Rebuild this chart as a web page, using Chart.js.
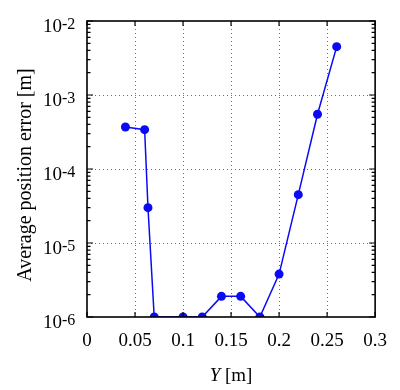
<!DOCTYPE html>
<html>
<head>
<meta charset="utf-8">
<script src="https://cdn.jsdelivr.net/npm/chart.js@4/dist/chart.umd.min.js"></script>
<style>
  body { margin: 0; background: #fff; }
  #wrap { width: 400px; height: 390px; }
</style>
</head>
<body>
<div id="wrap"><canvas id="errChart" width="400" height="390"></canvas></div>
<script>
// values
const yPos = [0.04, 0.06, 0.0635, 0.07, 0.10, 0.12, 0.14, 0.16, 0.18, 0.20, 0.22, 0.24, 0.26];
const avgError = [3.7e-4, 3.4e-4, 3.0e-5, 1e-6, 1e-6, 1e-6, 1.9e-6, 1.9e-6, 1e-6, 3.8e-6, 4.5e-5, 5.5e-4, 4.5e-3];
const xTicks = [0, 0.05, 0.1, 0.15, 0.2, 0.25, 0.3];
const yExponents = [-6, -5, -4, -3, -2];

const serif = "'Liberation Serif', 'Times New Roman', serif";
const gridGray = '#6e6e6e';

const framePlugin = {
    id: 'frame',
    afterDraw(chart) {
        const ctx = chart.ctx;
        const a = chart.chartArea;
        const xs = chart.scales.x, ys = chart.scales.y;
        ctx.save();
        ctx.strokeStyle = '#000';
        ctx.lineWidth = 1.6;
        ctx.strokeRect(a.left, a.top, a.right - a.left, a.bottom - a.top);

        // inward ticks
        ctx.lineWidth = 1.2;
        ctx.beginPath();
        xTicks.forEach(v => {
            const px = xs.getPixelForValue(v);
            ctx.moveTo(px, a.bottom); ctx.lineTo(px, a.bottom - 5);
            ctx.moveTo(px, a.top); ctx.lineTo(px, a.top + 5);
        });
        yExponents.forEach(e => {
            const py = ys.getPixelForValue(Math.pow(10, e));
            ctx.moveTo(a.left, py); ctx.lineTo(a.left + 6, py);
            ctx.moveTo(a.right, py); ctx.lineTo(a.right - 6, py);
            if (e < -2) {
                for (let m = 2; m <= 9; m++) {
                    const my = ys.getPixelForValue(m * Math.pow(10, e));
                    ctx.moveTo(a.left, my); ctx.lineTo(a.left + 3.5, my);
                    ctx.moveTo(a.right, my); ctx.lineTo(a.right - 3.5, my);
                }
            }
        });
        ctx.stroke();

        // y tick labels 10^e
        ctx.fillStyle = '#000';
        ctx.textBaseline = 'alphabetic';
        ctx.textAlign = 'left';
        yExponents.forEach(e => {
            const py = ys.getPixelForValue(Math.pow(10, e));
            ctx.font = '19px ' + serif;
            ctx.fillText('10', 43, py + 11);
            ctx.font = '16px ' + serif;
            ctx.fillText('-' + Math.abs(e), 62, py + 8);
        });

        // x title: italic Y + " [m]"
        ctx.font = 'italic 19px ' + serif;
        const w1 = ctx.measureText('Y').width;
        ctx.font = '19px ' + serif;
        const w2 = ctx.measureText(' [m]').width;
        const cx = (a.left + a.right) / 2;
        const sx = cx - (w1 + w2) / 2;
        ctx.font = 'italic 19px ' + serif;
        ctx.fillText('Y', sx, 381);
        ctx.font = '19px ' + serif;
        ctx.fillText(' [m]', sx + w1, 381);

        // y title
        ctx.translate(31, 175);
        ctx.rotate(-Math.PI / 2);
        ctx.textAlign = 'center';
        ctx.font = '20px ' + serif;
        ctx.fillText('Average position error [m]', 0, 0);
        ctx.restore();
    }
};

new Chart(document.getElementById('errChart'), {
    type: 'line',
    data: {
        datasets: [{
            data: yPos.map((x, i) => ({ x: x, y: avgError[i] })),
            borderColor: '#0a0af5',
            backgroundColor: '#0a0af5',
            borderWidth: 1.5,
            pointRadius: 4.5,
            pointBorderWidth: 0,
            tension: 0
        }]
    },
    options: {
        responsive: false,
        animation: false,
        layout: { padding: { top: 21, right: 17, left: 0, bottom: 0 } },
        plugins: { legend: { display: false }, tooltip: { enabled: false } },
        scales: {
            x: {
                type: 'linear',
                min: 0,
                max: 0.3,
                afterBuildTicks: s => { s.ticks = xTicks.map(v => ({ value: v })); },
                afterFit: s => { s.height = 73; },
                border: { display: false, dash: [1, 3] },
                grid: {
                    drawTicks: false,
                    color: c => (c.tick && (c.tick.value === 0 || c.tick.value === 0.3)) ? 'transparent' : gridGray,
                    lineWidth: 1
                },
                ticks: {
                    padding: 13,
                    color: '#000',
                    font: { family: serif, size: 19 },
                    callback: v => String(+v.toFixed(2))
                }
            },
            y: {
                type: 'logarithmic',
                min: 1e-6,
                max: 1e-2,
                afterBuildTicks: s => { s.ticks = yExponents.map(e => ({ value: Math.pow(10, e) })); },
                afterFit: s => { s.width = 87; },
                border: { display: false, dash: [1, 3] },
                grid: {
                    drawTicks: false,
                    color: c => (c.tick && (c.tick.value <= 1e-6 * 1.01 || c.tick.value >= 1e-2 * 0.99)) ? 'transparent' : gridGray,
                    lineWidth: 1
                },
                ticks: { display: false }
            }
        }
    },
    plugins: [framePlugin]
});
</script>
</body>
</html>
